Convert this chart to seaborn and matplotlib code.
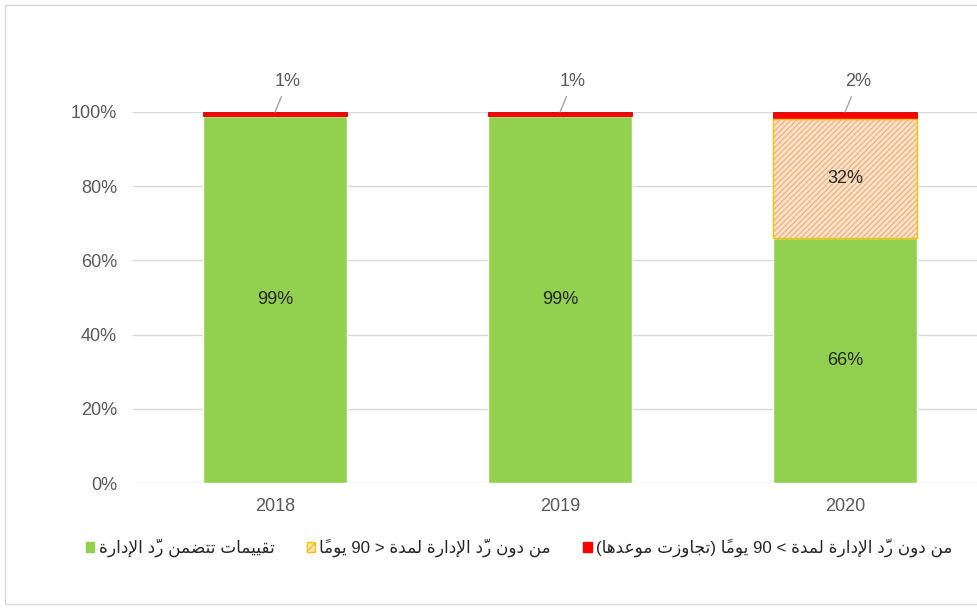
import matplotlib
matplotlib.use("Agg")
import matplotlib.pyplot as plt
from matplotlib.patches import Patch, Rectangle
import seaborn as sns
import pandas as pd

years = ["2018", "2019", "2020"]
with_reply = [99, 99, 66]        # تقييمات تتضمن ردّ الإدارة
no_reply_lt90 = [0, 0, 32]       # من دون ردّ الإدارة لمدة < 90 يوماً
no_reply_gt90 = [1, 1, 2]        # من دون ردّ الإدارة لمدة > 90 يوماً (تجاوزت موعدها)
y_ticks = [0, 20, 40, 60, 80, 100]

legend_labels = [
    "تقييمات تتضمن ردّ الإدارة",
    "من دون ردّ الإدارة لمدة < 90 يوماً",
    "من دون ردّ الإدارة لمدة > 90 يوماً (تجاوزت موعدها)",
]

# matplotlib has no arabic shaping / bidi, so do a tiny one here
FORMS = {
    "\u0627": ("\uFE8D", "\uFE8E", None, None),
    "\u0625": ("\uFE87", "\uFE88", None, None),
    "\u0629": ("\uFE93", "\uFE94", None, None),
    "\u062A": ("\uFE95", "\uFE96", "\uFE97", "\uFE98"),
    "\u062C": ("\uFE9D", "\uFE9E", "\uFE9F", "\uFEA0"),
    "\u062D": ("\uFEA1", "\uFEA2", "\uFEA3", "\uFEA4"),
    "\u062F": ("\uFEA9", "\uFEAA", None, None),
    "\u0631": ("\uFEAD", "\uFEAE", None, None),
    "\u0632": ("\uFEAF", "\uFEB0", None, None),
    "\u0636": ("\uFEBD", "\uFEBE", "\uFEBF", "\uFEC0"),
    "\u0639": ("\uFEC9", "\uFECA", "\uFECB", "\uFECC"),
    "\u0642": ("\uFED5", "\uFED6", "\uFED7", "\uFED8"),
    "\u0644": ("\uFEDD", "\uFEDE", "\uFEDF", "\uFEE0"),
    "\u0645": ("\uFEE1", "\uFEE2", "\uFEE3", "\uFEE4"),
    "\u0646": ("\uFEE5", "\uFEE6", "\uFEE7", "\uFEE8"),
    "\u0647": ("\uFEE9", "\uFEEA", "\uFEEB", "\uFEEC"),
    "\u0648": ("\uFEED", "\uFEEE", None, None),
    "\u064A": ("\uFEF1", "\uFEF2", "\uFEF3", "\uFEF4"),
}
LAM_ALEF = {"\u0627": ("\uFEFB", "\uFEFC"), "\u0625": ("\uFEF9", "\uFEFA")}
MARKS = {"\u064B", "\u0651"}
MIRROR = {"(": ")", ")": "(", "<": ">", ">": "<"}


def shape(text):
    chars = list(text)
    n = len(chars)
    clusters = []
    prev_join = False
    i = 0
    while i < n:
        c = chars[i]
        if c in MARKS:
            clusters[-1] += c
            i += 1
            continue
        if c not in FORMS:
            clusters.append(c)
            prev_join = False
            i += 1
            continue
        j = i + 1
        while j < n and chars[j] in MARKS:
            j += 1
        nxt = chars[j] if j < n else None
        if c == "\u0644" and j == i + 1 and nxt in LAM_ALEF:
            clusters.append(LAM_ALEF[nxt][1 if prev_join else 0])
            prev_join = False
            i = j + 1
            continue
        iso, fin, ini, med = FORMS[c]
        can_next = ini is not None and nxt in FORMS
        if prev_join and can_next:
            g = med
        elif prev_join:
            g = fin
        elif can_next:
            g = ini
        else:
            g = iso
        clusters.append(g)
        prev_join = ini is not None
        i += 1
    return clusters


def visual(text):
    tokens = []
    for cl in shape(text):
        if cl.isdigit() and tokens and tokens[-1].isdigit():
            tokens[-1] += cl
        else:
            tokens.append(cl)
    return "".join(MIRROR.get(t, t) for t in reversed(tokens))


sns.set_style("white")
plt.rcParams["font.family"] = ["Liberation Sans", "DejaVu Sans"]

df = pd.DataFrame({"year": years, "green": with_reply,
                   "orange": no_reply_lt90, "red": no_reply_gt90})
df["b_orange"] = df["green"]
df["b_red"] = df["green"] + df["orange"]

fig = plt.figure(figsize=(9.77, 6.08), dpi=100)
fig.patches.append(Rectangle((5 / 977, 4 / 608), 1.0, 1 - 9 / 608, transform=fig.transFigure,
                             fill=False, edgecolor="#d9d9d9", lw=1))
ax = fig.add_axes([132.5 / 977, 125 / 608, 855 / 977, 371 / 608])

bw = 0.505
sns.barplot(data=df, x="year", y="green", color="#92d050", saturation=1,
            width=bw, errorbar=None, ax=ax, zorder=3)
sns.barplot(data=df, x="year", y="orange", bottom=df["b_orange"], color="#fde5cc",
            saturation=1, width=bw, errorbar=None, ax=ax, hatch="//////",
            edgecolor="#f4b183", linewidth=0, zorder=3)
sns.barplot(data=df, x="year", y="orange", bottom=df["b_orange"], color="#ffc000",
            fill=False, width=bw, errorbar=None, ax=ax, linewidth=1, zorder=4)
sns.barplot(data=df, x="year", y="red", bottom=df["b_red"], color="#ff0000",
            saturation=1, width=bw, errorbar=None, ax=ax, edgecolor="#d00000",
            linewidth=0.6, zorder=3)
# empty segments (orange in 2018/2019) should not leave an outline
for p in ax.patches:
    if p.get_height() == 0:
        p.set_visible(False)

ax.set_xlim(-0.5, 2.5)
ax.set_ylim(0, 100)
ax.set_yticks(y_ticks)
ax.set_yticklabels([f"{t}%" for t in y_ticks])
ax.set_xlabel("")
ax.set_ylabel("")
ax.grid(axis="y", color="#d9d9d9", lw=1, zorder=0)
ax.set_axisbelow(True)
for s in ax.spines.values():
    s.set_visible(False)
ax.tick_params(axis="both", length=0, labelsize=13, colors="#595959")
ax.tick_params(axis="x", pad=11)
ax.tick_params(axis="y", pad=11)

for i in range(len(years)):
    g = with_reply[i]
    ax.text(i, g / 2, f"{g}%", ha="center", va="center", fontsize=13, color="#262626", zorder=5)
    o = no_reply_lt90[i]
    if o > 0:
        ax.text(i, g + o / 2, f"{o}%", ha="center", va="center", fontsize=13,
                color="#262626", zorder=5)
    r = no_reply_gt90[i]
    ax.annotate(f"{r}%", xy=(i, 100), xytext=(13, 31), textcoords="offset pixels",
                ha="center", va="center", fontsize=13, color="#595959",
                arrowprops=dict(arrowstyle="-", color="#a6a6a6", lw=1, shrinkA=3, shrinkB=0))

handles = [
    Patch(facecolor="#92d050", edgecolor="#92d050"),
    Patch(facecolor="#fde5cc", edgecolor="#ffc000", hatch="////"),
    Patch(facecolor="#ff0000", edgecolor="#ff0000"),
]
fig.legend(handles, [visual(t) for t in legend_labels], loc="center left",
           bbox_to_anchor=(86 / 977, 1 - 548 / 608), ncol=3, frameon=False,
           fontsize=12.2, handlelength=0.5, handleheight=0.5, handletextpad=0.25,
           columnspacing=1.9, borderpad=0, borderaxespad=0, labelcolor="#262626")

fig.savefig("out.png", dpi=100)
